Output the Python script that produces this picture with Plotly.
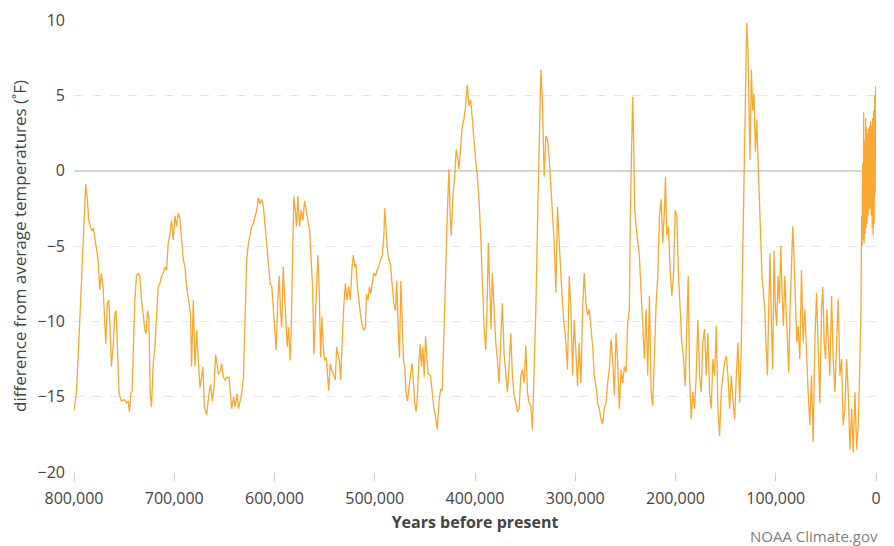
import plotly.graph_objects as go #To create the chart

#Thousands of years before present (oldest first)
kyearsBP = [
    800, 799.5, 798.7, 797.7, 796, 794.3, 792.7, 791, 789.3, 788.3, 786.7, 785.3, 783.7, 782, 780.7, 779.3,
    777.7, 776, 774.3, 772.7, 771, 769.3, 768.3, 766.7, 765.3, 764, 762.7, 761, 759.3, 758, 756.7, 755,
    752.7, 750, 747.7, 746, 744.7, 743.3, 742, 740.7, 739.3, 737.7, 736, 734.3, 732.7, 731, 729.3, 728,
    726.7, 725.3, 724, 722.7, 721, 719.3, 717.7, 716, 714.3, 712.7, 711, 709.3, 707.7, 706, 704.3, 702.7,
    701, 699.3, 697.7, 696, 694.3, 692.7, 691, 689.3, 687.7, 685.3, 683.7, 682.7, 681, 679.3, 677.7, 676,
    674.3, 672.7, 671.3, 670, 667.7, 665.3, 663.7, 662, 660.3, 658.7, 657.3, 656, 654, 652.7, 651, 649.3,
    647.3, 645.3, 644, 642.7, 640.7, 639.3, 637.3, 636, 634.3, 632.7, 631, 629.3, 627.7,
    626, 624.3, 622.7, 621, 619.3, 617.7, 616, 614.3, 612.7, 611, 609.3, 607.7, 606, 604.3, 602.7, 601,
    599.3, 598.3, 596.7, 595.3, 594, 592.7, 591.3, 590, 588.7, 587.3, 586, 584.3, 583.3, 582, 580.7, 579.3,
    578, 576.7, 575, 573.3, 571.7, 570, 568.3, 566.7, 565, 563.3, 562, 560.7, 559.3, 558, 556.7, 555.3,
    554, 552.7, 551.3, 550, 548.3, 547, 546, 544.3, 542.7, 541, 539.3, 538, 536.7, 535.3, 534, 532.7,
    531, 529.3, 527.7, 526, 524.3, 522.7, 521.3, 520, 518.7, 517.3, 516, 514.3, 512.7, 511, 509.3, 508.3,
    506.7, 505.3, 504, 502.7, 501, 499.3, 497.7, 496, 494.3, 492.7, 491, 490, 488.7, 487.3, 486, 484.3,
    482.7, 481, 479.3, 478, 476.7, 475.3, 474, 472.7, 471.3, 470, 468.7, 467.3, 466, 464.3, 462.7, 461.3,
    460, 458.7, 457.3, 456, 454.7, 453.3, 452, 450.7, 449.3, 448, 446.7,
    444.3, 442.7, 441, 439.3, 437.7, 436, 434.3, 432.7, 431, 429.3, 427.7, 426, 425, 423.7, 422, 420.3,
    418.7, 417.3, 416, 414.3, 412.7, 411, 409.3, 407.7, 406, 404.3, 402.7, 401, 399.3, 397.7, 396, 394.3,
    392.7, 391, 389.3, 388, 386.7, 385.3, 384, 382.7, 381, 379.3, 377.7, 376, 374.3, 372.7, 371, 369.3,
    367.7, 366, 364.3, 362.7, 361, 359.3, 357.7, 356, 354.3, 352.7, 351, 349.3, 347.7, 346, 344.3, 342.7,
    341, 339.3, 337.7, 336, 334.3, 332.7, 331, 329.3, 327.7, 326, 324.3, 322.7, 321, 319.3, 317.7, 316,
    314.3, 312.7, 311, 309.3, 307.7, 306, 304.3, 302.7, 301, 299.3, 297.7, 296, 294.3, 292.7, 291, 289.3,
    287.7, 286,
    284.3, 282.7, 281, 279.3, 277.7, 276, 274.3, 272.7, 271, 269.3, 267.7, 266, 264.3, 262.7, 261, 259.3,
    257.7, 256, 254.3, 252.7, 251, 249.3, 247.7, 246, 245, 243.7, 242.7, 241.7, 240.7, 239.3, 237.7, 236,
    234.3, 232.7, 231, 229.3, 227.7, 226, 224.3, 222.7, 221, 219.3, 217.7, 216, 214.3, 212.7, 211, 210,
    208.7, 207, 205.3, 203.7, 202, 200.3, 198.7, 197, 195.3, 193.7, 192, 190.3, 188.7, 187.3, 186, 184.3,
    182.7, 181, 179.3, 177.7, 176, 174.3, 172.7, 171, 169.3, 167.7, 166, 164.3, 162.7, 161, 159.3, 157.7,
    156, 154.3, 152.7, 151, 149.3, 147.7, 146, 144.3, 142.7, 141, 139.3, 137.7,
    136, 134.3, 133, 131.7, 130.3, 129, 127.7, 126.7, 125.7, 124.3, 123, 121.7, 120.3, 119, 117.7, 116.3,
    115, 113.7, 112.3, 111, 109.7, 108.3, 107, 105.7, 104.3, 103, 101.7, 100.3, 99, 97.7, 96.3, 95,
    93.7, 92.3, 91, 89.7, 88.3, 87, 85.7, 84.3, 83, 81.7, 80.3, 79, 77.7, 76, 74.3, 72.7,
    71, 69.3, 67.7, 66, 64.3, 62.7, 61, 59.3, 57.7, 56, 54.3, 53, 51.7, 50.3, 49, 47.7,
    46, 44.3, 42.7, 41, 39.3, 37.7, 36, 34.3, 32.7, 31, 29.3, 27.7, 26, 24.3, 22.7, 21,
    19.3, 17.7, 16, 15,
    14.3, 13.8, 13.3, 12.8, 12.3, 11.8, 11.3, 10.8, 10.3, 9.8, 9.3, 8.8, 8.3, 7.8, 7.3, 6.8,
    6.3, 5.8, 5.3, 4.8, 4.3, 3.8, 3.3, 2.8, 2.3, 1.8, 1.3, 0.8, 0.4, 0,
]

#Difference from average temperature in degrees F, same order as kyearsBP
tempDiffF = [
    -15.9, -15.7, -15.5, -14.8, -12.6, -9.9, -7.0, -4.8, -2.6, -0.9, -1.9, -3.3, -3.7, -4.0, -3.8, -4.4,
    -5.0, -5.9, -7.9, -6.8, -7.7, -9.7, -11.5, -8.8, -8.6, -10.4, -13.0, -11.7, -9.5, -9.3, -11.7, -14.8,
    -15.3, -15.2, -15.4, -15.3, -16.0, -14.8, -14.6, -11.7, -8.6, -7.0, -6.8, -7.0, -8.6, -9.5, -10.6, -10.8,
    -9.3, -9.7, -14.8, -15.7, -12.8, -11.7, -9.3, -7.7, -7.5, -7.0, -6.8, -6.4, -6.6, -4.8, -4.2, -3.3,
    -4.6, -3.0, -3.7, -2.8, -3.2, -4.4, -5.9, -6.4, -7.7, -8.8, -9.5, -13.0, -8.6, -13.0, -10.6, -12.6,
    -14.4, -13.7, -13.0, -15.7, -16.2, -14.8, -14.2, -15.3, -14.4, -12.2, -13.0, -13.5, -13.3, -12.8, -13.7, -13.9,
    -13.7, -13.7, -14.8, -15.8, -15.0, -15.7, -14.8, -15.8, -15.3, -14.8, -13.7, -9.9, -5.9,
    -4.8, -4.2, -3.7, -3.5, -3.0, -2.6, -1.8, -2.2, -1.9, -2.4, -3.7, -5.0, -6.2, -7.5, -7.7, -9.3,
    -11.0, -11.9, -8.6, -7.0, -9.3, -10.4, -6.4, -8.2, -9.9, -11.7, -10.4, -12.6, -10.4, -5.9, -1.7, -2.6,
    -3.7, -1.7, -3.7, -2.6, -3.3, -2.0, -2.8, -3.3, -3.9, -5.7, -7.7, -12.2, -9.3, -7.7, -5.6, -8.2,
    -12.4, -9.7, -11.7, -12.6, -12.4, -13.7, -14.6, -12.8, -13.3, -13.5, -13.9, -11.7, -12.2, -12.6, -13.9, -11.7,
    -9.1, -7.5, -8.6, -7.7, -8.6, -6.4, -5.6, -6.4, -6.2, -7.7, -8.6, -9.5, -10.2, -10.6, -10.4, -8.2,
    -8.6, -7.7, -8.2, -7.5, -6.8, -7.0, -6.6, -6.4, -5.9, -5.7, -4.4, -2.5, -3.9, -5.3, -5.9, -6.2,
    -7.5, -8.8, -9.3, -7.3, -10.4, -12.4, -7.3, -10.4, -12.6, -13.0, -14.8, -15.3, -14.4, -13.5, -12.8, -14.4,
    -15.5, -16.0, -14.8, -12.8, -11.5, -13.0, -11.7, -13.7, -11.0, -12.4, -13.5,
    -13.6, -14.9, -15.8, -16.3, -17.2, -15.4, -14.5, -14.6, -11.4, -7.0, -3.0, 0.1, -2.6, -4.3, -1.7, -0.4,
    1.4, 0.9, 0.1, 1.4, 2.9, 3.4, 4.3, 5.7, 4.3, 4.7, 3.2, 2.3, 0.7, -0.4, -1.9, -4.3,
    -7.9, -10.3, -11.9, -9.2, -4.8, -8.8, -10.5, -6.8, -9.2, -11.4, -12.5, -14.1, -11.2, -8.8, -12.1, -13.2,
    -14.7, -13.0, -10.8, -13.6, -14.9, -15.4, -16.0, -15.8, -13.6, -13.2, -14.1, -11.6, -14.7, -15.4, -15.6, -17.2,
    -13.6, -9.2, -3.7, 0.7, 6.7, 4.5, -0.4, 2.3, 2.1, 0.9, -1.0, -2.6, -4.8, -8.1, -2.4, -4.8,
    -7.0, -8.8, -10.3, -11.4, -13.2, -7.0, -9.2, -13.6, -9.9, -12.5, -14.3, -11.4, -14.1, -9.2, -6.8, -8.8,
    -9.6, -9.2,
    -10.3, -11.6, -13.6, -14.3, -15.4, -15.8, -16.5, -16.8, -15.8, -15.4, -14.1, -13.2, -11.2, -12.5, -14.9, -10.8,
    -12.7, -15.8, -13.2, -14.1, -13.0, -13.4, -10.1, -9.2, -2.6, 1.8, 4.9, 1.8, -2.6, -3.7, -4.8, -5.7,
    -8.1, -10.3, -12.5, -9.2, -13.6, -8.3, -14.7, -15.6, -11.4, -8.8, -7.0, -3.0, -1.9, -4.8, -2.6, -0.4,
    -4.3, -3.7, -6.6, -8.3, -7.0, -2.6, -3.0, -7.0, -9.2, -11.4, -12.5, -14.3, -10.3, -7.0, -13.6, -16.5,
    -14.7, -15.8, -13.6, -9.9, -13.6, -14.7, -11.4, -10.5, -13.6, -10.8, -14.7, -15.8, -12.5, -13.6, -10.3, -15.8,
    -17.6, -14.7, -13.6, -12.7, -12.3, -13.6, -15.8, -13.6, -15.2, -16.5, -13.6, -11.4,
    -15.4, -11.4, -5.9, -0.4, 5.8, 9.8, 8.0, 4.0, 0.7, 6.7, 4.0, 5.1, 1.2, 3.4, 0.7, -1.5,
    -5.2, -7.0, -8.1, -9.2, -11.4, -13.6, -9.2, -5.5, -10.3, -13.2, -5.3, -9.2, -10.3, -7.0, -8.8, -5.0,
    -8.1, -10.3, -7.0, -9.2, -11.4, -13.4, -9.2, -5.9, -3.7, -5.9, -9.2, -11.4, -10.3, -12.5, -6.6, -11.4,
    -9.2, -12.5, -14.7, -16.9, -13.6, -18.0, -11.4, -8.1, -11.4, -15.4, -9.2, -7.7, -11.4, -12.5, -9.2, -11.4,
    -13.6, -8.3, -12.5, -14.7, -11.4, -8.5, -13.6, -12.5, -16.9, -15.8, -12.5, -14.7, -18.5, -15.8, -18.7, -14.7,
    -18.5, -16.9, -12.5, -9.2,
    -3.0, -5.0, 0.5, -4.6, 3.9, -4.8, 2.0, -4.2, 3.5, -3.8, 2.9, -3.5, 2.5, -3.0, 2.8, -2.6,
    3.0, -2.5, 3.3, -3.0, 3.0, -3.8, 3.5, -4.3, 4.0, -3.5, 5.0, -1.5, 5.6, 1.5,
]

xTickVals = [800000, 700000, 600000, 500000, 400000, 300000, 200000, 100000, 0] #Positions of the x ticks
xTickText = ["800,000", "700,000", "600,000", "500,000", "400,000", "300,000", "200,000", "100,000", "0"]
yTickVals = [10, 5, 0, -5, -10, -15, -20] #Positions of the y ticks

years = [k * 1000 for k in kyearsBP] #Converting the thousands of years into years

fig = go.Figure() #Creating the figure object
fig.add_trace(
    go.Scatter(
        x=years,
        y=tempDiffF,
        mode="lines",
        line=dict(color="#F9A833", width=1.3), #Orange line like the original
        hoverinfo="skip",
        showlegend=False,
    ))

#The page body keeps an 8px margin, so the figure is 8px smaller than the window
fig.update_layout(
    width=886,
    height=538,
    margin=dict(l=66, r=18, t=12, b=74),
    paper_bgcolor="white",
    plot_bgcolor="white",
    font=dict(family="Open Sans, sans-serif", size=16, color="#444444"),
    annotations=[
        dict(text="NOAA Climate.gov", xref="paper", yref="paper", x=1.005, y=-0.142,
             xanchor="right", yanchor="middle", showarrow=False,
             font=dict(size=15, color="#808080")), #Credit in the bottom right corner
    ],
)

fig.update_xaxes(
    range=[800000, 0], #Reversed axis: older years on the left
    tickvals=xTickVals,
    ticktext=xTickText,
    ticks="outside",
    ticklen=8,
    tickcolor="#cccccc",
    ticklabelstandoff=4,
    showgrid=False,
    zeroline=False,
    showline=False,
    automargin=False, #Keeping the margins fixed
    title=dict(text="<b>Years before present</b>", font=dict(size=16, color="#444444"), standoff=8),
)

fig.update_yaxes(
    range=[-20, 10],
    tickvals=yTickVals,
    showgrid=True,
    gridcolor="#e6e6e6",
    griddash="dash",
    zeroline=True,
    zerolinecolor="#d6d6d6",
    zerolinewidth=2,
    ticks="",
    ticklabelstandoff=8,
    automargin=False,
    title=dict(text="difference from average temperatures (˚F)", font=dict(size=17, color="#444444"), standoff=14),
)

fig.write_html("out.html") #Saving the chart as a html page
